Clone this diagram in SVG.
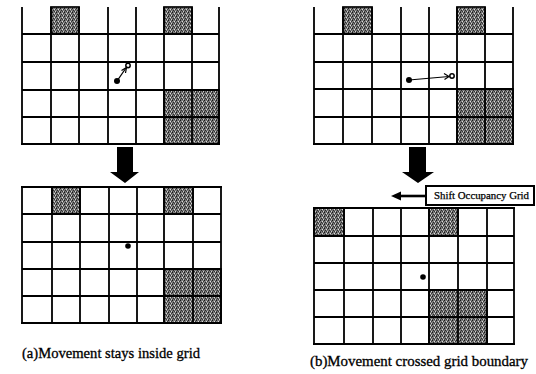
<svg xmlns="http://www.w3.org/2000/svg" width="536" height="374" viewBox="0 0 536 374">
<style>
.grid{fill:none;stroke:#000;stroke-width:1.8}
.occ{fill:url(#stip);stroke:#111;stroke-width:1.8}
.cap{font-family:"Liberation Serif","Times New Roman",serif;font-size:14.5px;fill:#000;stroke:#000;stroke-width:0.3}
.lbl{font-family:"Liberation Serif","Times New Roman",serif;font-size:10.5px;fill:#000;stroke:#000;stroke-width:0.25}
.big{fill:#000}
</style>
<defs>
<pattern id="stip" width="4" height="4" patternUnits="userSpaceOnUse">
<rect width="4" height="4" fill="#7a7a7a"/>
<rect x="0" y="0" width="1" height="1" fill="#1a1a1a"/>
<rect x="2" y="1" width="1" height="1" fill="#dedede"/>
<rect x="1" y="2" width="1" height="1" fill="#2a2a2a"/>
<rect x="3" y="3" width="1" height="1" fill="#cfcfcf"/>
<rect x="3" y="1" width="1" height="1" fill="#3a3a3a"/>
<rect x="0" y="3" width="1" height="1" fill="#444"/>
<rect x="2" y="3" width="1" height="1" fill="#333"/>
</pattern>
</defs>
<rect width="536" height="374" fill="#fff"/>

<g id="gridA">
<rect class="occ" x="51" y="7" width="28" height="27"/>
<rect class="occ" x="164" y="7" width="28" height="27"/>
<rect class="occ" x="164" y="90" width="55" height="54"/>
<path class="grid" d="M22,7V144M51,7V144M79,7V144M108,7V144M136,7V144M164,7V144M192,7V144M219,7V144M22,34H219M22,62H219M22,90H219M22,117H219"/>
<path class="grid" stroke-width="2.2" d="M21,144H220"/>
</g>

<g id="gridB">
<rect class="occ" x="52" y="187" width="28" height="27"/>
<rect class="occ" x="164" y="187" width="29" height="27"/>
<rect class="occ" x="164" y="269" width="57" height="54"/>
<path class="grid" d="M22,187V323M52,187V323M80,187V323M109,187V323M137,187V323M164,187V323M193,187V323M221,187V323M22,214H221M22,242H221M22,269H221M22,296H221"/>
<path class="grid" stroke-width="2.2" d="M21,187H222M21,323H222"/>
</g>

<g id="gridC">
<rect class="occ" x="343" y="7" width="29" height="27"/>
<rect class="occ" x="457" y="7" width="28" height="27"/>
<rect class="occ" x="457" y="89" width="56" height="55"/>
<path class="grid" d="M314,7V144M343,7V144M372,7V144M401,7V144M429,7V144M457,7V144M485,7V144M513,7V144M314,34H513M314,62H513M314,89H513M314,117H513"/>
<path class="grid" stroke-width="2.2" d="M313,144H514"/>
</g>

<g id="gridD">
<rect class="occ" x="314" y="208" width="30" height="28"/>
<rect class="occ" x="429" y="208" width="29" height="28"/>
<rect class="occ" x="429" y="290" width="58" height="54"/>
<path class="grid" d="M314,208V344M344,208V344M373,208V344M401,208V344M429,208V344M458,208V344M487,208V344M514,208V344M314,236H514M314,263H514M314,290H514M314,317H514"/>
<path class="grid" stroke-width="2.2" d="M313,208H515M313,344H515"/>
</g>

<g id="robotA">
<circle cx="117" cy="81" r="3" fill="#000"/>
<circle cx="128" cy="65.5" r="2.2" fill="#fff" stroke="#000" stroke-width="1.5"/>
</g>
<g id="robotB">
<circle cx="128" cy="246" r="2.8" fill="#000"/>
</g>
<g id="robotC">
<circle cx="409" cy="80" r="3" fill="#000"/>
<circle cx="452" cy="76" r="2.2" fill="#fff" stroke="#000" stroke-width="1.5"/>
</g>
<g id="robotD">
<circle cx="423" cy="277" r="2.8" fill="#000"/>
</g>

<g id="shiftLabel">
<rect x="426" y="186" width="108" height="19" fill="#fff" stroke="#000" stroke-width="2"/>
<text class="lbl" x="434" y="199" textLength="95" lengthAdjust="spacingAndGlyphs">Shift Occupancy Grid</text>
</g>

<g id="connectors">
<path d="M117,81L126,68" stroke="#000" stroke-width="1.3" fill="none"/>
<path d="M121.5,70.5L126.5,67.5L125.5,73" stroke="#000" stroke-width="1.2" fill="none"/>
<path d="M409,80L449,76.5" stroke="#000" stroke-width="1.2" fill="none"/>
<path d="M444,73.5L449,76.5L444.5,79.5" stroke="#000" stroke-width="1.2" fill="none"/>
<polygon class="big" points="117,147 133,147 133,172 139,172 125,183 110,172 117,172"/>
<polygon class="big" points="409,147 426,147 426,172 434,172 418,183 402,172 409,172"/>
<path d="M426,196H399" stroke="#000" stroke-width="2.6"/>
<polygon class="big" points="391,196 401,191.5 401,200.5"/>
</g>

<text class="cap" x="22" y="358" textLength="178" lengthAdjust="spacingAndGlyphs">(a)Movement stays inside grid</text>
<text class="cap" x="310" y="366" textLength="218" lengthAdjust="spacingAndGlyphs">(b)Movement crossed grid boundary</text>
</svg>
